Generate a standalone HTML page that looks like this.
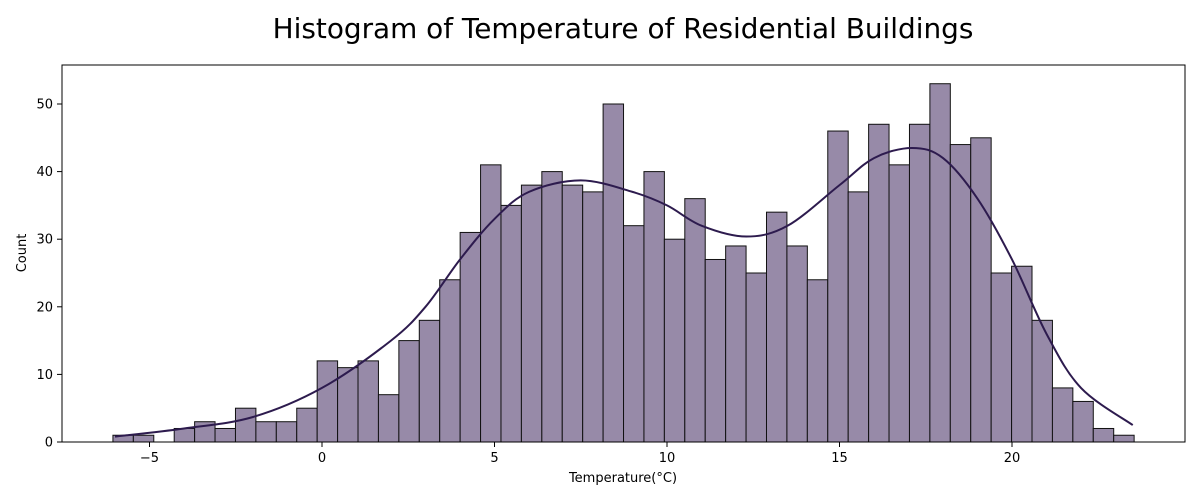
<!DOCTYPE html>
<html><head><meta charset="utf-8"><style>
body{margin:0;background:#fff;font-family:"DejaVu Sans","Liberation Sans",sans-serif;}
svg text{font-family:"DejaVu Sans","Liberation Sans",sans-serif;fill:#000;}
</style></head><body>
<svg id="chart" width="1200" height="500">
<text x="623" y="38" font-size="27.9" text-anchor="middle">Histogram of Temperature of Residential Buildings</text>
<g id="bars"></g>
<path id="kde" fill="none" stroke="#2d1b4e" stroke-width="2"/>
<rect x="62" y="65" width="1123" height="377" fill="none" stroke="#000" stroke-width="1"/>
<g id="xticks"></g><g id="yticks"></g>
<text x="623" y="482" font-size="13" text-anchor="middle">Temperature(°C)</text>
<text transform="translate(26,253) rotate(-90)" font-size="13" text-anchor="middle">Count</text>
</svg>
<script>
const binStart = -6.06;
const binWidth = 0.592;
const counts = [1,1,0,2,3,2,5,3,3,5,12,11,12,7,15,18,24,31,41,35,38,40,38,37,50,32,40,30,36,27,29,25,34,29,24,46,37,47,41,47,53,44,45,25,26,18,8,6,2,1];
const kdeX = [-6,-4,-2,0,2,3,4,5,6,7.5,9,10,11,12.3,13.5,15,16,17.1,18,19,20,21,22,23.5];
const kdeY = [0.8,2,3.7,8,15,20,27,33,37,38.7,37,35,32,30.4,32,38,42,43.5,42,36,27,16,8,2.5];
const xTicks = [-5,0,5,10,15,20];
const yTicks = [0,10,20,30,40,50];
const NS="http://www.w3.org/2000/svg";
const xs = v => 322 + v*34.5;
const ys = v => 442 - v*6.76;
const bars=document.getElementById('bars');
counts.forEach((c,i)=>{
  if(c<=0) return;
  const r=document.createElementNS(NS,'rect');
  const x0=xs(binStart+i*binWidth), x1=xs(binStart+(i+1)*binWidth);
  r.setAttribute('x',x0);r.setAttribute('width',x1-x0);
  r.setAttribute('y',ys(c));r.setAttribute('height',ys(0)-ys(c));
  r.setAttribute('fill','#978aa8');r.setAttribute('stroke','#111');r.setAttribute('stroke-width','1');
  
  
  bars.appendChild(r);
});
const P=kdeX.map((x,i)=>[xs(x),ys(kdeY[i])]);
let d='M'+P[0][0]+','+P[0][1];
for(let i=0;i<P.length-1;i++){
  const p0=P[Math.max(0,i-1)],p1=P[i],p2=P[i+1],p3=P[Math.min(P.length-1,i+2)];
  d+=' C'+(p1[0]+(p2[0]-p0[0])/6)+','+(p1[1]+(p2[1]-p0[1])/6)+' '+(p2[0]-(p3[0]-p1[0])/6)+','+(p2[1]-(p3[1]-p1[1])/6)+' '+p2[0]+','+p2[1];
}
document.getElementById('kde').setAttribute('d',d);
const xt=document.getElementById('xticks');
xTicks.forEach(t=>{
  const l=document.createElementNS(NS,'line');
  l.setAttribute('x1',xs(t));l.setAttribute('x2',xs(t));l.setAttribute('y1',442);l.setAttribute('y2',447);l.setAttribute('stroke','#000');
  
  
  xt.appendChild(l);
  const tx=document.createElementNS(NS,'text');
  tx.setAttribute('x',xs(t));tx.setAttribute('y',462);tx.setAttribute('font-size','13');tx.setAttribute('text-anchor','middle');
  tx.textContent=t<0?'\u2212'+Math.abs(t):t;
  
  
  xt.appendChild(tx);
});
const yt=document.getElementById('yticks');
yTicks.forEach(t=>{
  const l=document.createElementNS(NS,'line');
  l.setAttribute('x1',57);l.setAttribute('x2',62);l.setAttribute('y1',ys(t));l.setAttribute('y2',ys(t));l.setAttribute('stroke','#000');
  
  
  yt.appendChild(l);
  const tx=document.createElementNS(NS,'text');
  tx.setAttribute('x',53);tx.setAttribute('y',ys(t)+4.5);tx.setAttribute('font-size','13');tx.setAttribute('text-anchor','end');
  tx.textContent=t;
  
  
  yt.appendChild(tx);
});
</script>
</body></html>
